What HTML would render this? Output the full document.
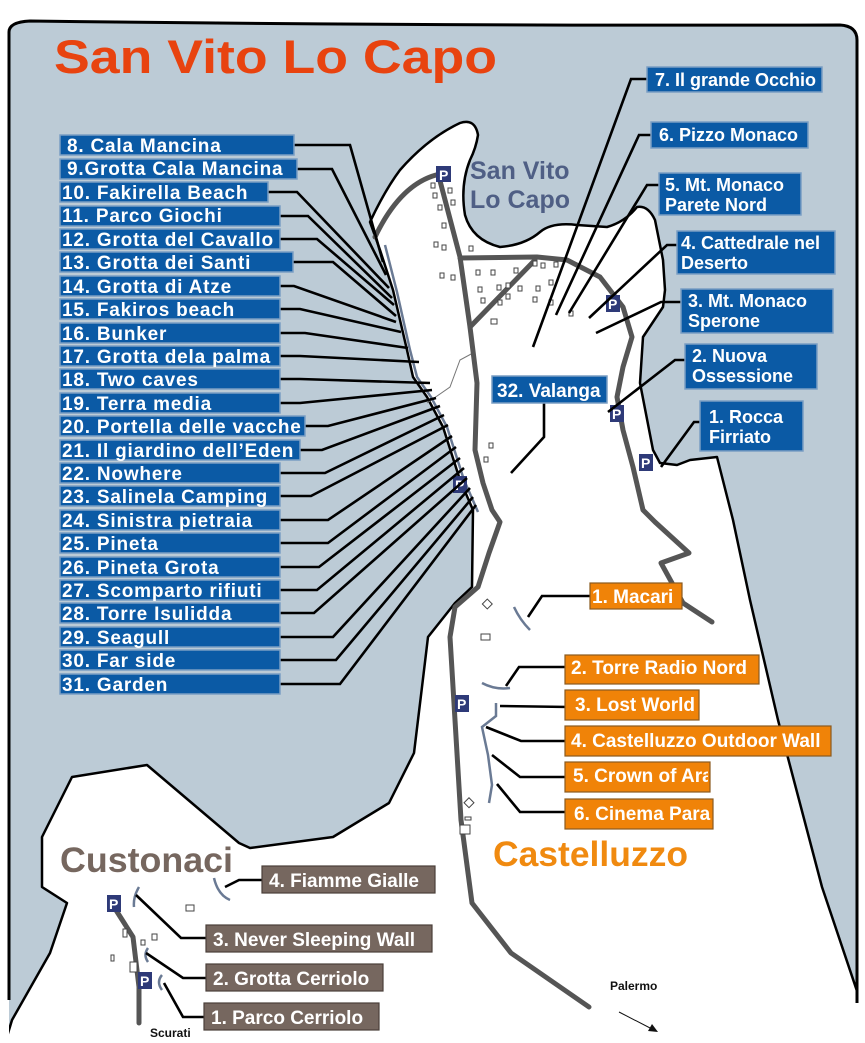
<!DOCTYPE html>
<html><head><meta charset="utf-8"><style>
html,body{margin:0;padding:0;background:#fff;}
svg{display:block;font-family:"Liberation Sans",Arial,sans-serif;}
.bl{fill:#0b5aa5;stroke:#7a9ec4;stroke-width:1.5}
.or{fill:#f08308;stroke:#8a5a20;stroke-width:1.2}
.br{fill:#76675f;stroke:#4a3f3a;stroke-width:1.2}
.t{fill:#fff;font-weight:bold;font-size:19px}
.tl{fill:#fff;font-weight:bold;font-size:19px;letter-spacing:0.8px}
.tr{fill:#fff;font-weight:bold;font-size:18px}
.ld{fill:none;stroke:#000;stroke-width:2.6}
.rd{fill:none;stroke:#555;stroke-width:5;stroke-linecap:round;stroke-linejoin:round}
.cr{fill:none;stroke:#6a7a94;stroke-width:2.5}
.b{fill:#fff;stroke:#444;stroke-width:1}
</style></head><body>
<svg width="865" height="1043" viewBox="0 0 865 1043" xmlns="http://www.w3.org/2000/svg">
<defs><clipPath id="fr"><path d="M9,32 Q9,22 30,21 Q430,26 840,25 Q857,26 857,40 L857,1043 L9,1043 Z"/></clipPath></defs>
<g clip-path="url(#fr)">
<rect x="0" y="0" width="865" height="1043" fill="#bccbd6"/>
<path fill="#fff" stroke="#000" stroke-width="2.5" stroke-linejoin="round" d="M370,222 Q385,190 400,170 Q428,138 460,123 Q475,118 478,135 Q476,148 470,160 Q460,185 465,215 Q472,240 500,247 Q525,245 540,232 Q552,222 577,225 L607,227 Q625,222 637,207 Q648,205 655,220 L663,260 L665,290 L663,307 L643,337 L640,383 L653,450 L660,463 L677,465 L690,460 L717,457 L733,520 L750,600 L778,720 L822,887 L861,1003 L861,1060 L0,1060 L12,1020 L50,953 L67,903 L42,887 L42,837 L72,777 L147,765 L239,843 L250,848 L333,837 L389,803 L414,753 L422,687 L428,637 L455,603 L472,587 L473,510 L460,480 L443,427 L427,397 L413,377 L407,350 L393,290 L380,250 Z"/>
</g>
<rect x="0" y="0" width="9" height="1043" fill="#fff"/>
<path d="M9,1000 L9,32 Q9,22 30,21 Q430,26 840,25 Q857,26 857,40 L857,1003" fill="none" stroke="#000" stroke-width="3"/>

<path class="cr" d="M385,245 L397,292 L410,350 L417,377 L431,397 L447,427 L464,480 L478,512"/>
<path d="M473,353 L460,360 L450,387 L427,403" fill="none" stroke="#777" stroke-width="1"/>

<path class="rd" d="M436,175 Q400,185 375,237"/>
<path class="rd" d="M439,177 L460,257 L470,327 L477,383 L475,450 L483,483 L492,510 L500,522 L489,553 L478,587 L455,607 L450,637 L455,720 L461,820 L472,903 L511,953 L589,1007"/>
<path class="rd" d="M460,258 L537,257 L567,260 L600,277 L623,307 L632,337 L623,367 L617,397 L623,430 L633,467 L643,510 L655,522 L689,553 L661,563 L683,603 L712,622"/>
<path class="rd" d="M535,260 L470,327"/>
<path class="rd" d="M114,907 L133,937 L139,987 L139,1023"/>

<g class="b">
<rect x="431" y="183" width="4" height="5"/><rect x="448" y="188" width="4" height="5"/><rect x="433" y="193" width="4" height="5"/><rect x="451" y="200" width="4" height="5"/><rect x="438" y="205" width="4" height="5"/><rect x="442" y="223" width="4" height="5"/><rect x="434" y="242" width="4" height="5"/><rect x="442" y="245" width="4" height="5"/><rect x="469" y="246" width="4" height="5"/><rect x="440" y="273" width="4" height="5"/><rect x="451" y="275" width="4" height="5"/><rect x="476" y="270" width="4" height="5"/><rect x="491" y="270" width="4" height="5"/><rect x="514" y="268" width="4" height="5"/><rect x="533" y="261" width="4" height="5"/><rect x="541" y="263" width="4" height="5"/><rect x="554" y="262" width="4" height="5"/><rect x="497" y="285" width="4" height="5"/><rect x="506" y="283" width="4" height="5"/><rect x="518" y="286" width="4" height="5"/><rect x="536" y="286" width="4" height="5"/><rect x="498" y="300" width="4" height="5"/><rect x="506" y="294" width="4" height="5"/><rect x="533" y="297" width="4" height="5"/><rect x="478" y="287" width="4" height="5"/><rect x="481" y="298" width="4" height="5"/><rect x="549" y="280" width="4" height="5"/><rect x="549" y="300" width="4" height="5"/><rect x="569" y="311" width="4" height="5"/><rect x="491" y="319" width="6" height="5"/><rect x="489" y="443" width="4" height="5"/><rect x="484" y="457" width="4" height="5"/><rect x="484" y="601" width="7" height="7" transform="rotate(45 488 604)"/><rect x="481" y="634" width="9" height="6"/><rect x="466" y="799" width="7" height="7" transform="rotate(45 469 802)"/><rect x="465" y="817" width="6" height="3"/><rect x="460" y="825" width="10" height="9"/><rect x="186" y="905" width="8" height="6"/><rect x="152" y="934" width="5" height="6"/><rect x="123" y="929" width="4" height="8"/><rect x="141" y="940" width="4" height="5"/><rect x="111" y="955" width="3" height="6"/><rect x="130" y="962" width="7" height="10"/>
</g>

<path class="cr" d="M514,607 Q520,620 530,630"/>
<path class="cr" d="M482,683 Q495,690 510,688"/>
<path class="cr" d="M496,703 L496,716 L482,727 L488,755 L492,785 L489,803"/>
<path class="cr" d="M214,878 Q218,895 230,900"/>
<path class="cr" d="M139,887 Q133,897 134,907"/>
<path class="cr" d="M148,948 Q143,955 148,962"/>
<path class="cr" d="M162,975 Q156,982 162,990"/>

<g font-weight="bold" font-size="14" fill="#fff">
<g><rect x="436" y="166" width="15" height="16" fill="#2e3a78"/><text x="439" y="180">P</text></g>
<g><rect x="606" y="295" width="14" height="17" fill="#2e3a78"/><text x="608" y="309">P</text></g>
<g><rect x="610" y="405" width="14" height="17" fill="#2e3a78"/><text x="612" y="419">P</text></g>
<g><rect x="639" y="454" width="14" height="17" fill="#2e3a78"/><text x="641" y="468">P</text></g>
<g><rect x="453" y="476" width="14" height="17" fill="#2e3a78"/><text x="455" y="490">P</text></g>
<g><rect x="455" y="695" width="14" height="17" fill="#2e3a78"/><text x="457" y="709">P</text></g>
<g><rect x="107" y="895" width="14" height="17" fill="#2e3a78"/><text x="109" y="909">P</text></g>
<g><rect x="138" y="972" width="14" height="17" fill="#2e3a78"/><text x="140" y="986">P</text></g>
</g>

<g class="ld">
<polyline points="294,145 350,145 383,262"/>
<polyline points="297,169 332,169 386,275"/>
<polyline points="268,192 297,192 389,288"/>
<polyline points="280,216 308,216 392,298"/>
<polyline points="280,239 317,239 394,305"/>
<polyline points="293,262 333,262 396,316"/>
<polyline points="280,286 294,286 396,322"/>
<polyline points="280,309 300,309 401,332"/>
<polyline points="280,333 305,333 408,348"/>
<polyline points="280,356 300,356 419,362"/>
<polyline points="280,379 300,379 430,383"/>
<polyline points="280,403 300,403 432,390"/>
<polyline points="305,426 328,426 436,398"/>
<polyline points="300,450 322,450 440,406"/>
<polyline points="280,473 325,473 444,415"/>
<polyline points="280,496 311,496 448,425"/>
<polyline points="280,520 328,520 452,436"/>
<polyline points="280,543 328,543 456,447"/>
<polyline points="280,567 319,567 460,458"/>
<polyline points="280,590 317,590 464,468"/>
<polyline points="280,613 314,613 467,478"/>
<polyline points="280,637 333,637 470,488"/>
<polyline points="280,660 336,660 473,497"/>
<polyline points="280,684 340,684 476,505"/>
</g>

<g>
<rect class="bl" x="60" y="135" width="234" height="20"/><text class="tl" x="67" y="152">8. Cala Mancina</text>
<rect class="bl" x="60" y="159" width="237" height="20"/><text class="tl" x="67" y="175">9.Grotta Cala Mancina</text>
<rect class="bl" x="60" y="182" width="208" height="20"/><text class="tl" x="62" y="199">10. Fakirella Beach</text>
<rect class="bl" x="60" y="206" width="220" height="20"/><text class="tl" x="62" y="222">11. Parco Giochi</text>
<rect class="bl" x="60" y="229" width="220" height="20"/><text class="tl" x="62" y="246">12. Grotta del Cavallo</text>
<rect class="bl" x="60" y="252" width="233" height="20"/><text class="tl" x="62" y="269">13. Grotta dei Santi</text>
<rect class="bl" x="60" y="276" width="220" height="20"/><text class="tl" x="62" y="293">14. Grotta di Atze</text>
<rect class="bl" x="60" y="299" width="220" height="20"/><text class="tl" x="62" y="316">15. Fakiros beach</text>
<rect class="bl" x="60" y="323" width="220" height="20"/><text class="tl" x="62" y="340">16. Bunker</text>
<rect class="bl" x="60" y="346" width="220" height="20"/><text class="tl" x="62" y="363">17. Grotta dela palma</text>
<rect class="bl" x="60" y="369" width="220" height="20"/><text class="tl" x="62" y="386">18. Two caves</text>
<rect class="bl" x="60" y="393" width="220" height="20"/><text class="tl" x="62" y="410">19. Terra media</text>
<rect class="bl" x="60" y="416" width="245" height="20"/><text class="tl" x="62" y="433">20. Portella delle vacche</text>
<rect class="bl" x="60" y="440" width="240" height="20"/><text class="tl" x="62" y="457">21. Il giardino dell’Eden</text>
<rect class="bl" x="60" y="463" width="220" height="20"/><text class="tl" x="62" y="480">22. Nowhere</text>
<rect class="bl" x="60" y="486" width="220" height="20"/><text class="tl" x="62" y="503">23. Salinela Camping</text>
<rect class="bl" x="60" y="510" width="220" height="20"/><text class="tl" x="62" y="527">24. Sinistra pietraia</text>
<rect class="bl" x="60" y="533" width="220" height="20"/><text class="tl" x="62" y="550">25. Pineta</text>
<rect class="bl" x="60" y="557" width="220" height="20"/><text class="tl" x="62" y="574">26. Pineta Grota</text>
<rect class="bl" x="60" y="580" width="220" height="20"/><text class="tl" x="62" y="597">27. Scomparto rifiuti</text>
<rect class="bl" x="60" y="603" width="220" height="20"/><text class="tl" x="62" y="620">28. Torre Isulidda</text>
<rect class="bl" x="60" y="627" width="220" height="20"/><text class="tl" x="62" y="644">29. Seagull</text>
<rect class="bl" x="60" y="650" width="220" height="20"/><text class="tl" x="62" y="667">30. Far side</text>
<rect class="bl" x="60" y="674" width="220" height="20"/><text class="tl" x="62" y="691">31. Garden</text>
</g>

<g class="ld">
<polyline points="647,79 631,79 533,347"/>
<polyline points="651,135 639,135 556,315"/>
<polyline points="663,185 647,185 569,313"/>
<polyline points="677,245 667,245 589,318"/>
<polyline points="681,302 661,302 596,333"/>
<polyline points="685,360 675,360 608,412"/>
<polyline points="700,422 694,422 661,467"/>
<polyline points="544,403 544,437 511,473"/>
<polyline points="590,596 542,596 528,617"/>
<polyline points="569,667 519,667 506,686"/>
<polyline points="569,707 500,706"/>
<polyline points="569,741 521,741 486,727"/>
<polyline points="568,777 520,777 492,755"/>
<polyline points="568,812 520,812 497,784"/>
<polyline points="264,880 239,880 225,887"/>
<polyline points="206,938 181,938 136,895"/>
<polyline points="208,978 183,978 146,953"/>
<polyline points="206,1017 183,1017 164,983"/>
</g>

<rect class="bl" x="647" y="67" width="175" height="25"/><text class="tr" x="655" y="86">7. Il grande Occhio</text>
<rect class="bl" x="651" y="122" width="157" height="26"/><text class="tr" x="659" y="141">6. Pizzo Monaco</text>
<rect class="bl" x="659" y="173" width="142" height="42"/><text class="tr" x="665" y="191">5. Mt. Monaco</text><text class="tr" x="665" y="211">Parete Nord</text>
<rect class="bl" x="677" y="231" width="158" height="43"/><text class="tr" x="681" y="249">4. Cattedrale nel</text><text class="tr" x="681" y="269">Deserto</text>
<rect class="bl" x="681" y="289" width="152" height="44"/><text class="tr" x="688" y="307">3. Mt. Monaco</text><text class="tr" x="688" y="327">Sperone</text>
<rect class="bl" x="685" y="344" width="132" height="45"/><text class="tr" x="692" y="362">2. Nuova</text><text class="tr" x="692" y="382">Ossessione</text>
<rect class="bl" x="700" y="401" width="103" height="50"/><text class="tr" x="709" y="423">1. Rocca</text><text class="tr" x="709" y="443">Firriato</text>
<rect class="bl" x="492" y="376" width="115" height="27"/><text class="t" x="497" y="397">32. Valanga</text>

<defs>
<clipPath id="c5"><rect x="568" y="762" width="140" height="30"/></clipPath>
<clipPath id="c6"><rect x="568" y="799" width="143" height="30"/></clipPath>
</defs>
<rect class="or" x="590" y="583" width="92" height="26"/><text class="t" x="592" y="603">1. Macari</text>
<rect class="or" x="565" y="655" width="194" height="29"/><text class="t" x="571" y="674">2. Torre Radio Nord</text>
<rect class="or" x="565" y="690" width="134" height="30"/><text class="t" x="575" y="711">3. Lost World</text>
<rect class="or" x="565" y="726" width="266" height="30"/><text class="t" x="571" y="747">4. Castelluzzo Outdoor Wall</text>
<rect class="or" x="565" y="762" width="145" height="30"/><text class="t" x="573" y="782" clip-path="url(#c5)">5. Crown of Ara</text>
<rect class="or" x="565" y="799" width="148" height="30"/><text class="t" x="574" y="820" clip-path="url(#c6)">6. Cinema Paradiso</text>

<rect class="br" x="262" y="866" width="173" height="27"/><text class="t" x="269" y="887">4. Fiamme Gialle</text>
<rect class="br" x="206" y="925" width="226" height="27"/><text class="t" x="213" y="946">3. Never Sleeping Wall</text>
<rect class="br" x="206" y="964" width="177" height="27"/><text class="t" x="213" y="985">2. Grotta Cerriolo</text>
<rect class="br" x="204" y="1003" width="175" height="27"/><text class="t" x="211" y="1024">1. Parco Cerriolo</text>

<text x="54" y="73" font-size="47" font-weight="bold" fill="#e8430f" textLength="443" lengthAdjust="spacingAndGlyphs">San Vito Lo Capo</text>
<text x="470" y="179" font-size="25" font-weight="bold" fill="#4f5f85">San Vito</text>
<text x="470" y="208" font-size="25" font-weight="bold" fill="#4f5f85">Lo Capo</text>
<text x="60" y="872" font-size="35" font-weight="bold" fill="#76675f" textLength="173" lengthAdjust="spacingAndGlyphs">Custonaci</text>
<text x="493" y="866" font-size="35" font-weight="bold" fill="#f08a10" textLength="195" lengthAdjust="spacingAndGlyphs">Castelluzzo</text>
<text x="150" y="1037" font-size="12" font-weight="bold" fill="#111">Scurati</text>
<text x="610" y="990" font-size="12" font-weight="bold" fill="#111">Palermo</text>
<line x1="619" y1="1012" x2="652" y2="1029" stroke="#111" stroke-width="1"/>
<polygon points="658,1032 648,1031 652,1024" fill="#111"/>
</svg>
</body></html>
